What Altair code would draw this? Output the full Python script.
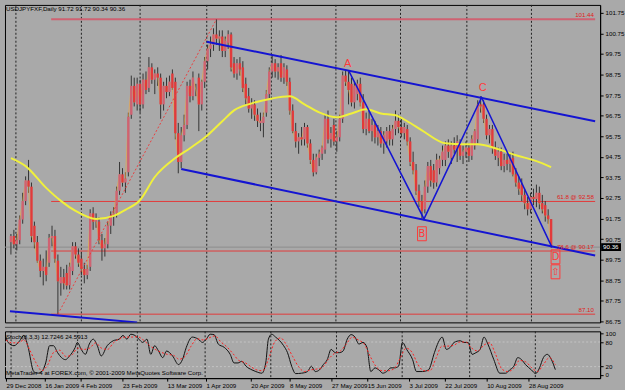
import altair as alt
import pandas as pd

# ---------------- data ----------------
opens = [90.6, 90.9, 90.5, 90.7, 91.7, 92.6, 93.6, 93.3, 91.4, 90.6,
         89.7, 89.2, 89.4, 89.6, 90.8, 90.9, 89.7, 88.6, 88.9, 89.1,
         88.5, 89.2, 90.4, 90.0, 89.8, 89.3, 89.0, 89.4, 92.0, 91.6,
         91.6, 90.7, 90.3, 90.5, 91.4, 91.9, 92.0, 93.1, 93.9, 93.5,
         94.0, 96.8, 98.2, 97.3, 98.3, 97.3, 98.5, 98.1, 99.1, 98.5,
         98.8, 98.6, 97.3, 98.2, 97.9, 98.8, 98.4, 95.9, 94.5, 95.8,
         96.3, 98.2, 97.7, 98.0, 98.6, 97.3, 98.4, 99.4, 100.0, 100.2,
         100.7, 100.5, 100.6, 99.9, 100.3, 100.7, 99.3, 98.8, 99.3, 99.1,
         98.3, 97.7, 97.1, 97.3, 96.8, 96.5, 96.4, 96.9, 97.8, 98.9,
         99.3, 98.9, 99.3, 98.6, 99.0, 98.4, 97.0, 96.0, 95.5, 95.7,
         95.6, 96.2, 95.4, 94.6, 94.0, 94.7, 94.9, 95.1, 96.6, 95.6,
         96.3, 95.5, 95.7, 96.6, 98.7, 98.4, 98.3, 97.4, 97.8, 98.3,
         97.4, 96.1, 96.6, 96.0, 96.3, 95.7, 96.0, 95.4, 95.5, 96.0,
         95.6, 96.1, 96.5, 96.2, 95.9, 96.1, 95.5, 94.5, 94.1, 93.1,
         92.6, 92.2, 93.3, 94.3, 94.1, 93.5, 94.2, 94.6, 94.6, 95.3,
         94.7, 95.3, 95.1, 95.4, 94.8, 95.0, 95.2, 94.8, 95.3, 95.6,
         97.3, 97.3, 96.6, 95.8, 96.1, 95.2, 94.7, 95.0, 94.3, 94.6,
         94.4, 94.7, 93.9, 93.5, 93.4, 92.9, 92.5, 92.2, 92.8, 92.7,
         93.0, 92.5, 92.4, 91.9, 91.72]
highs = [91.0, 91.2, 91.0, 91.9, 93.0, 93.8, 94.6, 93.5, 91.6, 90.9,
         90.0, 89.8, 90.2, 91.0, 91.4, 91.2, 90.0, 89.4, 89.3, 89.5,
         89.6, 90.6, 90.6, 90.3, 90.1, 89.6, 89.5, 92.2, 92.3, 92.0,
         91.8, 91.0, 90.8, 91.6, 92.1, 92.3, 93.3, 94.5, 94.2, 94.0,
         96.9, 98.7, 98.6, 98.6, 98.5, 98.8, 98.9, 99.6, 99.3, 99.0,
         99.1, 98.8, 98.4, 98.6, 98.7, 99.0, 98.6, 96.4, 96.2, 96.8,
         98.4, 98.5, 98.9, 98.3, 98.8, 98.5, 99.6, 100.2, 100.6, 101.0,
         101.44, 100.9, 100.9, 100.6, 100.9, 100.8, 99.6, 99.5, 99.6, 99.4,
         98.6, 98.1, 97.6, 97.5, 97.1, 96.9, 96.9, 98.0, 99.1, 99.7,
         99.5, 99.3, 99.7, 99.3, 99.2, 98.6, 97.3, 96.4, 95.9, 96.2,
         96.4, 96.3, 95.6, 94.9, 94.9, 95.1, 95.3, 96.8, 97.0, 96.2,
         96.6, 96.0, 96.8, 98.9, 98.95, 98.9, 98.6, 98.4, 98.5, 98.6,
         97.8, 96.9, 97.0, 96.6, 96.5, 96.3, 96.2, 96.0, 96.2, 96.3,
         96.3, 97.0, 96.8, 96.6, 96.4, 96.3, 95.7, 95.0, 94.4, 93.4,
         92.9, 93.6, 94.5, 94.6, 94.4, 94.9, 94.8, 95.3, 95.5, 95.6,
         95.5, 95.7, 95.8, 95.6, 95.3, 95.5, 95.4, 95.8, 96.1, 97.5,
         97.7, 97.5, 96.8, 96.3, 96.3, 95.5, 95.2, 95.2, 94.9, 94.9,
         94.9, 95.0, 94.2, 93.8, 93.7, 93.2, 92.8, 93.0, 93.2, 93.4,
         93.3, 92.9, 92.6, 92.2, 91.72]
lows = [90.0, 90.3, 90.2, 90.5, 91.5, 92.4, 93.0, 90.6, 90.3, 89.6,
        88.9, 88.5, 88.7, 89.4, 90.4, 89.6, 87.10, 88.0, 88.3, 88.3,
        88.3, 89.0, 89.8, 89.4, 89.0, 88.6, 88.8, 89.2, 91.2, 91.3,
        90.5, 89.7, 89.9, 90.3, 91.0, 91.4, 91.8, 92.9, 93.3, 93.0,
        93.8, 96.6, 97.2, 97.0, 96.9, 97.1, 97.8, 97.9, 98.3, 97.8,
        98.2, 96.6, 97.0, 97.6, 97.7, 98.0, 95.6, 93.95, 94.2, 95.5,
        96.1, 97.4, 97.5, 97.7, 96.0, 97.0, 98.1, 99.0, 99.6, 99.9,
        100.2, 99.9, 99.6, 99.6, 100.0, 98.9, 98.6, 98.5, 98.7, 97.9,
        97.3, 96.9, 96.6, 96.5, 96.2, 96.0, 95.7, 96.7, 97.6, 98.6,
        98.6, 98.5, 98.4, 98.3, 98.2, 96.8, 95.9, 95.2, 94.9, 95.3,
        95.3, 95.2, 94.4, 93.8, 93.9, 94.3, 94.6, 94.9, 95.4, 95.2,
        95.3, 95.0, 95.5, 96.4, 98.2, 97.3, 97.2, 97.1, 97.5, 97.2,
        95.9, 95.8, 95.9, 95.5, 95.4, 95.3, 95.2, 94.9, 95.2, 95.3,
        95.3, 95.8, 95.9, 95.7, 95.6, 95.3, 94.3, 93.9, 92.9, 92.3,
        91.73, 92.0, 93.0, 93.3, 93.2, 93.3, 93.9, 94.3, 94.3, 94.7,
        94.4, 94.9, 94.5, 94.6, 94.4, 94.7, 94.5, 94.6, 95.1, 95.4,
        96.9, 96.4, 95.6, 95.4, 94.9, 94.6, 94.3, 94.1, 94.0, 94.1,
        94.0, 93.8, 93.3, 92.9, 92.6, 92.2, 91.9, 92.0, 92.4, 92.3,
        92.2, 92.0, 91.6, 91.5, 90.34]
closes = [90.9, 90.5, 90.7, 91.7, 92.6, 93.6, 93.3, 90.9, 90.6, 89.7,
          89.2, 89.4, 89.0, 90.8, 90.9, 89.8, 88.7, 88.9, 88.6, 88.5,
          89.4, 90.4, 90.0, 89.6, 89.3, 89.0, 89.3, 92.0, 91.6, 91.7,
          90.7, 90.3, 90.5, 91.4, 91.9, 92.0, 93.1, 93.9, 93.5, 93.7,
          96.7, 98.2, 97.4, 98.3, 97.3, 98.5, 98.0, 99.1, 98.5, 98.8,
          98.6, 97.3, 98.2, 97.9, 98.4, 98.1, 95.9, 94.5, 95.8, 96.3,
          98.2, 97.7, 98.6, 98.0, 97.3, 98.4, 99.4, 100.0, 100.2, 100.7,
          100.5, 100.6, 99.9, 100.4, 100.7, 99.1, 98.8, 99.3, 99.0, 98.1,
          97.6, 97.1, 97.3, 96.8, 96.5, 96.4, 96.7, 97.8, 98.9, 99.3,
          98.9, 99.1, 98.6, 99.1, 98.4, 97.0, 96.0, 95.5, 95.7, 95.6,
          96.2, 95.4, 94.6, 94.0, 94.7, 94.9, 95.2, 96.6, 95.6, 95.9,
          95.5, 95.7, 96.6, 98.7, 98.4, 98.0, 97.4, 98.2, 98.3, 97.4,
          96.1, 96.6, 96.0, 96.3, 95.7, 96.0, 95.4, 95.8, 96.0, 95.6,
          96.1, 96.5, 96.2, 95.9, 96.2, 95.5, 94.5, 94.1, 93.1, 92.6,
          92.1, 93.3, 94.3, 93.6, 93.5, 94.6, 94.6, 95.0, 95.3, 95.0,
          95.3, 95.1, 95.5, 94.8, 95.0, 95.2, 94.8, 95.6, 96.0, 97.3,
          97.2, 96.6, 95.8, 96.1, 95.2, 94.8, 95.0, 94.3, 94.6, 94.4,
          94.7, 93.9, 93.5, 93.2, 92.9, 92.5, 92.2, 92.8, 92.7, 93.0,
          92.5, 92.2, 91.9, 91.72, 90.36]
signal_bars = [63, 85]

ma_idx = [0, 5, 12, 17, 22, 29, 35, 39, 44, 49, 56, 61, 67, 72, 76, 82, 89, 95, 100, 105,
          111, 116, 121, 126, 131, 135, 140, 148, 154, 159, 165, 172, 179, 184]
ma_val = [94.69, 94.30, 93.24, 92.61, 92.12, 91.73, 91.88, 92.17, 92.65, 93.77,
          94.69, 95.17, 95.80, 96.48, 97.01, 97.35, 97.59, 97.69, 97.30, 96.91,
          96.67, 96.86, 97.06, 96.86, 96.77, 96.48, 96.04, 95.41, 95.36, 95.36,
          95.17, 94.83, 94.54, 94.25]

k_idx = [0, 0.7, 2.7, 4.6, 6, 7.3, 9.3, 10.6, 12, 13.3, 14.6, 15.9, 17.3, 18.6, 19.9, 21.3,
         23.2, 23.9, 25.2, 26.6, 27.9, 29.2, 30.6, 31.9, 33.9, 35.9, 37.9, 39.2, 40.5, 41.8,
         43.2, 44.5, 45.8, 47.2, 48.5, 49.8, 51.1, 52.5, 53.8, 55.8, 57.8, 59.1, 60.4, 62.4,
         64.4, 65.8, 67.1, 68.4, 69.7, 71.1, 73.1, 75.1, 76.4, 77.7, 79, 80.4, 82.4, 83.7,
         85.7, 87, 87.9, 89, 90.3, 91.7, 93, 94.3, 95.7, 97, 99, 101, 102.3, 103.6, 105,
         106.3, 107.6, 108.9, 110.3, 111.6, 112.9, 114.3, 115.6, 116.9, 118.2, 119.6, 120.9,
         122.2, 123.6, 124.9, 126.2, 127.5, 128.9, 130.2, 131.5, 132.8, 134.2, 136.2, 137.5,
         139.5, 141.5, 143.5, 144.8, 146.1, 147.5, 148.8, 150.1, 152.1, 153.4, 154.8, 156.1,
         157.4, 158.8, 160.1, 161.4, 163.4, 165.4, 167.4, 168.7, 170.1, 171.4, 172.7, 174,
         176, 177.4, 178.7, 180, 181.3, 182.7, 184]
k_val = [92, 79, 71, 83, 96, 71, 8, 4, 8, 29, 71, 71, 54, 42, 37, 46, 67, 79, 62, 50,
         75, 87, 71, 46, 71, 83, 87, 96, 87, 99, 96, 87, 79, 87, 50, 71, 58, 42, 58, 46,
         25, 37, 67, 92, 87, 79, 87, 99, 98, 75, 67, 50, 29, 29, 33, 21, 12, 8, 4, 29,
         87, 99, 92, 83, 71, 54, 21, 3, 4, 8, 21, 8, 12, 25, 37, 62, 54, 54, 58, 87,
         98, 92, 75, 79, 67, 8, 17, 12, 4, 8, 17, 17, 21, 79, 62, 37, 8, 8, 12, 54,
         79, 92, 62, 67, 79, 83, 79, 79, 50, 54, 62, 92, 75, 37, 4, 4, 12, 21, 42, 37,
         25, 12, 3, 17, 42, 50, 37, 12.7]
d_idx = list(range(0, 185, 2))
d_val = [85, 78, 78, 85, 60, 30, 10, 25, 55, 60, 45, 48, 65, 62, 65, 78, 65, 62, 78, 88,
         92, 92, 93, 85, 72, 62, 55, 50, 48, 38, 45, 70, 88, 85, 90, 95, 80, 68, 52, 35,
         30, 20, 12, 10, 40, 80, 90, 72, 45, 20, 8, 12, 14, 18, 38, 52, 58, 75, 92, 85,
         75, 45, 20, 10, 10, 15, 40, 65, 55, 25, 10, 10, 40, 70, 70, 72, 80, 80, 65, 58,
         72, 78, 50, 15, 8, 15, 35, 32, 18, 8, 25, 42, 24.6]

price_ticks = [101.75, 100.75, 99.75, 98.75, 97.75, 96.75, 95.75, 94.75, 93.75,
               92.75, 91.75, 90.75, 89.75, 88.75, 87.75, 86.75]
date_idx = [0, 13, 25, 39, 54, 67, 82, 95, 109, 121, 135, 147, 161, 175]
date_txt = ["29 Dec 2008", "16 Jan 2009", "4 Feb 2009", "23 Feb 2009", "13 Mar 2009",
            "1 Apr 2009", "20 Apr 2009", "8 May 2009", "27 May 2009", "15 Jun 2009",
            "3 Jul 2009", "22 Jul 2009", "10 Aug 2009", "28 Aug 2009"]
grid_idx = [1.7, 24, 44, 66.7, 88.7, 110.7, 132.7, 155.3, 177.3]

fib_levels = [101.44, 92.58, 90.17, 87.10]
fib_labels = ["101.44", "61.8  @  92.58", "78.6  @  90.17", "87.10"]
fib_start = 13.7
fib_diag_i = [16, 70]
fib_diag_p = [87.10, 101.44]

seg_name = ["up", "up", "lo", "lo", "bl", "bl"]
seg_i = [66.7, 199, 58, 199, -0.33, 43]
seg_p = [100.35, 96.48, 94.16, 89.95, 87.24, 86.70]
abcd_i = [115, 140.7, 160.3, 184.3]
abcd_p = [98.95, 91.73, 97.64, 90.35]

last_price = 90.36
title_txt = "USDJPYFXF,Daily 91.72 91.72 90.34 90.36"
stoch_txt = "Stoch(8,3,3) 12.7246 24.5913"
credit_txt = "MetaTrader 4 at FOREX.com, \u00a9 2001-2009 MetaQuotes Software Corp."

# ---------------- frames ----------------
n = len(opens)
bars = pd.DataFrame({"i": list(range(n)), "o": opens, "h": highs, "l": lows, "c": closes})
bars["kind"] = ["sig" if i in signal_bars else ("up" if c >= o else "dn")
                for i, o, c in zip(bars.i, bars.o, bars.c)]

FONT = "Liberation Sans"
FS = 6.2
W, HM, HS = 598, 319, 47
xsc = alt.Scale(domain=[-1 / 3, 199], nice=False, zero=False)
ysc = alt.Scale(domain=[86.70, 102.137], nice=False, zero=False)
ssc = alt.Scale(domain=[-8, 106], nice=False, zero=False)

yax = alt.Axis(orient="right", values=price_ticks, format=".2f", title=None, grid=False,
               tickSize=3, labelPadding=2, labelFontSize=FS, labelFont=FONT,
               labelColor="#000", domainColor="#000", tickColor="#000")
labels_js = "[" + ",".join("'" + t + "'" for t in date_txt) + "]"
idx_js = "[" + ",".join(str(v) for v in date_idx) + "]"
xax = alt.Axis(orient="bottom", values=date_idx, labelExpr=labels_js + "[indexof(" + idx_js + ", datum.value)]",
               labelAlign="left", title=None, grid=False, tickSize=3, labelPadding=1,
               labelFontSize=FS, labelFont=FONT, labelColor="#000", domainColor="#000",
               tickColor="#000", labelOverlap=False, labelFlush=False)
sax = alt.Axis(orient="right", values=[0, 20, 80, 100], title=None, grid=False, tickSize=3,
               labelPadding=2, labelFontSize=FS, labelFont=FONT, labelColor="#000",
               domainColor="#000", tickColor="#000", labelOverlap=False)


def X(f):
    return alt.X(f, type="quantitative", scale=xsc, axis=None)


def Y(f):
    return alt.Y(f, type="quantitative", scale=ysc, axis=yax)


def XS(f):
    return alt.X(f, type="quantitative", scale=xsc, axis=xax)


def YS(f):
    return alt.Y(f, type="quantitative", scale=ssc, axis=sax)


grid_df = pd.DataFrame({"g": grid_idx})
grid = alt.Chart(grid_df).mark_rule(color="#202020", strokeDash=[2, 2], strokeWidth=1).encode(x=X("g"))

fib_df = pd.DataFrame({"lv": fib_levels, "lab": fib_labels, "x0": [fib_start] * 4, "x1": [199] * 4,
                       "xe": [198.6] * 4, "top": ["t", "o", "o", "o"]})
fib_lines = alt.Chart(fib_df).mark_rule().encode(
    x=X("x0"), x2="x1", y=Y("lv"),
    color=alt.Color("top:N", scale=alt.Scale(domain=["t", "o"], range=["#cf6272", "#e23a3a"]), legend=None),
    strokeWidth=alt.StrokeWidth("top:N", scale=alt.Scale(domain=["t", "o"], range=[2, 1]), legend=None))
fib_text = alt.Chart(fib_df).mark_text(align="right", baseline="bottom", dy=-1, fontSize=FS,
                                       font=FONT, color="#e02020").encode(
    x=X("xe"), y=Y("lv"), text="lab:N")
diag_df = pd.DataFrame({"i": fib_diag_i, "p": fib_diag_p})
diag = alt.Chart(diag_df).mark_line(color="#e84040", strokeDash=[2, 2], strokeWidth=1).encode(
    x=X("i"), y=Y("p"))

bid = alt.Chart(pd.DataFrame({"lv": [last_price]})).mark_rule(color="#8c8c8c", strokeWidth=1).encode(y=Y("lv"))

wicks = alt.Chart(bars).mark_rule(color="#333333", strokeWidth=1).encode(x=X("i"), y=Y("l"), y2="h")
orange = alt.Chart(bars).mark_line(color="#f2a33a", strokeWidth=0.8, opacity=0.8).encode(x=X("i"), y=Y("c"))
bodies = alt.Chart(bars).mark_bar(size=2.4).encode(
    x=X("i"), y=Y("o"), y2="c",
    color=alt.Color("kind:N", scale=alt.Scale(domain=["up", "dn", "sig"],
                                              range=["#12129a", "#921010", "#3ae03a"]), legend=None))

ma_df = pd.DataFrame({"i": ma_idx, "v": ma_val})
ma = alt.Chart(ma_df).mark_line(color="#f0f03c", strokeWidth=2, interpolate="monotone").encode(
    x=X("i"), y=Y("v"))

seg_df = pd.DataFrame({"s": seg_name, "i": seg_i, "p": seg_p})
channel = alt.Chart(seg_df).mark_line(color="#1414d2", strokeWidth=2, clip=True).encode(
    x=X("i"), y=Y("p"), detail="s:N")
abcd_df = pd.DataFrame({"i": abcd_i, "p": abcd_p, "o": [0, 1, 2, 3]})
abcd = alt.Chart(abcd_df).mark_line(color="#1414d2", strokeWidth=1.5).encode(
    x=X("i"), y=Y("p"), order="o:Q")

ac_df = pd.DataFrame({"i": [114.7, 160.7], "p": [99.28, 98.08], "t": ["A", "C"]})
ac_text = alt.Chart(ac_df).mark_text(color="#ff3a3a", fontSize=11, font=FONT).encode(
    x=X("i"), y=Y("p"), text="t:N")
box_df = pd.DataFrame({"x0": [138.5, 184.0, 184.0], "x1": [141.5, 187.0, 187.0],
                       "y0": [90.67, 89.55, 88.82], "y1": [91.35, 90.23, 89.50],
                       "xm": [140, 185.5, 185.5], "ym": [91.01, 89.89, 89.16],
                       "t": ["B", "D", "\u21e7"]})
boxes = alt.Chart(box_df).mark_rect(fillOpacity=0, stroke="#ff3a3a", strokeWidth=1).encode(
    x=X("x0"), x2="x1", y=Y("y0"), y2="y1")
box_text = alt.Chart(box_df).mark_text(color="#ff3a3a", fontSize=10, font="DejaVu Sans").encode(
    x=X("xm"), y=Y("ym"), text="t:N")

title = alt.Chart(pd.DataFrame({"t": [title_txt]})).mark_text(
    align="left", baseline="middle", fontSize=FS, font=FONT, color="#000").encode(
    x=alt.value(1), y=alt.value(4), text="t:N")

pbox_df = pd.DataFrame({"lo": [last_price - 0.19], "hi": [last_price + 0.19], "m": [last_price],
                        "t": ["90.36"]})
pbox = alt.Chart(pbox_df).mark_rect(color="#000").encode(
    x=alt.value(W + 1), x2=alt.value(W + 21), y=Y("lo"), y2="hi")
ptext = alt.Chart(pbox_df).mark_text(align="left", baseline="middle", fontSize=FS, font=FONT,
                                     color="#fff").encode(x=alt.value(W + 3), y=Y("m"), text="t:N")

main = alt.layer(grid, fib_lines, bid, wicks, orange, bodies, ma, diag, channel, abcd,
                 fib_text, ac_text, boxes, box_text, title, pbox, ptext).properties(width=W, height=HM)

# ---------------- stochastic panel ----------------
sgrid = alt.Chart(grid_df).mark_rule(color="#202020", strokeDash=[2, 2], strokeWidth=1).encode(x=XS("g"))
lev = alt.Chart(pd.DataFrame({"lv": [20, 80]})).mark_rule(color="#c4c4c4", strokeDash=[2, 2]).encode(y=YS("lv"))
k_df = pd.DataFrame({"i": k_idx, "v": k_val})
d_df = pd.DataFrame({"i": d_idx, "v": d_val})
kline = alt.Chart(k_df).mark_line(color="#111", strokeWidth=1, interpolate="monotone").encode(
    x=XS("i"), y=YS("v"))
dline = alt.Chart(d_df).mark_line(color="#ff2020", strokeWidth=1, strokeDash=[2, 2],
                                  interpolate="monotone").encode(x=XS("i"), y=YS("v"))
sep = alt.Chart(pd.DataFrame({"a": [0]})).mark_rule(color="#505050").encode(
    x=alt.value(0), x2=alt.value(W), y=alt.value(-4))
stxt = alt.Chart(pd.DataFrame({"t": [stoch_txt]})).mark_text(
    align="left", baseline="middle", fontSize=FS, font=FONT, color="#000").encode(
    x=alt.value(1), y=alt.value(6), text="t:N")
ctxt = alt.Chart(pd.DataFrame({"t": [credit_txt]})).mark_text(
    align="left", baseline="middle", fontSize=FS, font=FONT, color="#000").encode(
    x=alt.value(1), y=alt.value(42), text="t:N")

stoch = alt.layer(sgrid, lev, kline, dline, sep, stxt, ctxt).properties(width=W, height=HS)

chart = alt.vconcat(main, stoch, spacing=9, bounds="flush").properties(
    background="#a9a9a9",
    padding={"left": 3, "top": 3, "right": 0, "bottom": 0},
).configure_view(stroke="#000", strokeWidth=1)

chart.save("out.html", embed_options={"renderer": "svg", "actions": False})
